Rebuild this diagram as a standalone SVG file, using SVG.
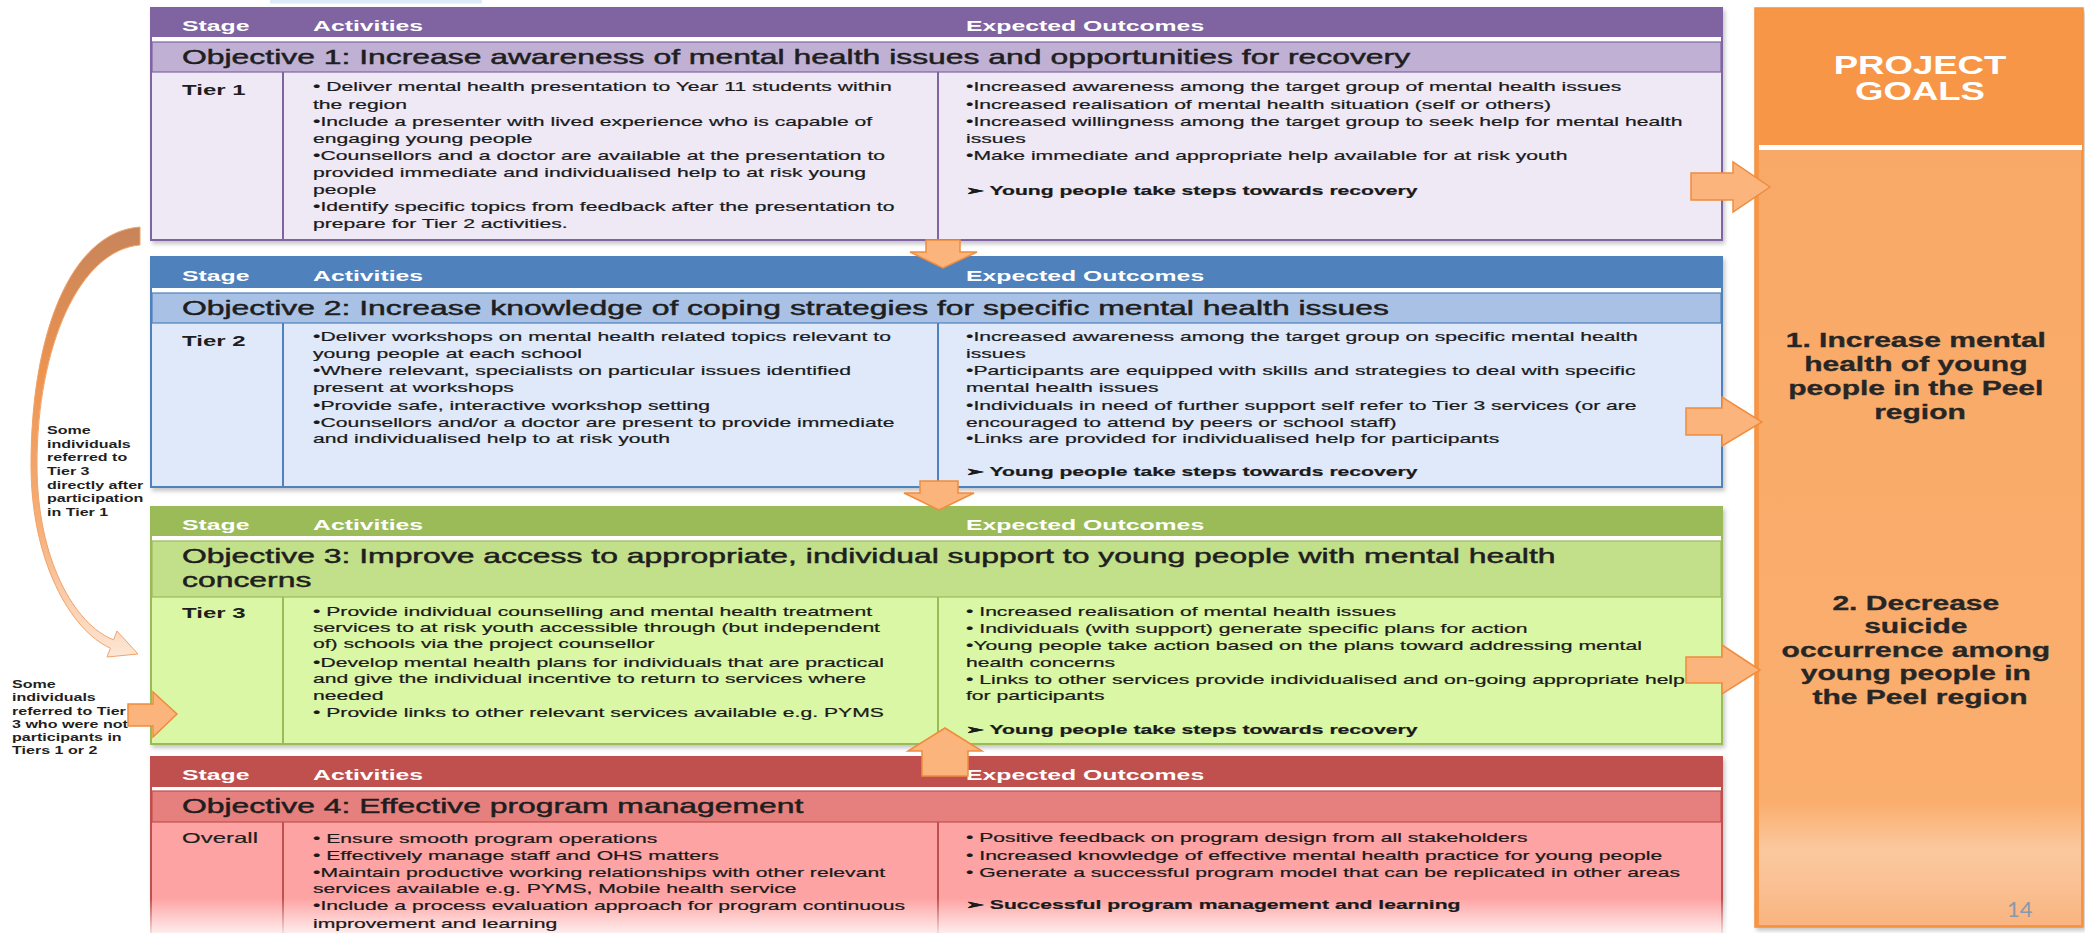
<svg xmlns="http://www.w3.org/2000/svg" width="2085" height="933" viewBox="0 0 2085 933">
  <defs>
    <style>
      text { font-family: "Liberation Sans", Arial, sans-serif; }
      .hd { font-weight: bold; font-size: 15.5px; fill: #ffffff; }
      .obj { font-size: 20px; fill: #1e1e1e; stroke: #1e1e1e; stroke-width: 0.45; }
      .tier { font-weight: bold; font-size: 15px; fill: #1e1e1e; }
      .tier-n { font-size: 15px; fill: #1e1e1e; stroke: #1e1e1e; stroke-width: 0.2; }
      .body { font-size: 13.2px; fill: #1a1a1a; stroke: #1a1a1a; stroke-width: 0.22; }
      .strong { font-weight: bold; }
      .goal { font-weight: bold; font-size: 19.5px; fill: #262626; text-anchor: middle; stroke: #262626; stroke-width: 0.3; }
      .goal-hd { font-weight: bold; font-size: 26.5px; fill: #ffffff; text-anchor: middle; }
      .side { font-weight: bold; font-size: 11px; fill: #1f1f1f; }
      .num { font-family: Lato, "Open Sans", sans-serif; font-size: 22px; fill: #8a98ad; }
      .arrow { fill: #fbb47c; stroke: #f08c3e; stroke-width: 1.5; stroke-linejoin: miter; }
      .divider { stroke-width: 2; }
    </style>
    <filter id="shadow" x="-2%" y="-5%" width="104%" height="115%">
      <feDropShadow dx="2" dy="3" stdDeviation="2" flood-color="#7f7f7f" flood-opacity="0.45"/>
    </filter>
    <linearGradient id="goalBody" x1="0" y1="150" x2="0" y2="927" gradientUnits="userSpaceOnUse">
      <stop offset="0" stop-color="#f9a967"/>
      <stop offset="0.84" stop-color="#faae6e"/>
      <stop offset="0.9" stop-color="#fbc89e"/>
      <stop offset="0.94" stop-color="#fac295"/>
      <stop offset="1" stop-color="#f9b37f"/>
    </linearGradient>
    <linearGradient id="curveFill" x1="0" y1="227" x2="0" y2="660" gradientUnits="userSpaceOnUse">
      <stop offset="0" stop-color="#c7845a"/>
      <stop offset="0.35" stop-color="#ee9450"/>
      <stop offset="0.7" stop-color="#f7b07a"/>
      <stop offset="1" stop-color="#fde8d8"/>
    </linearGradient>
    <linearGradient id="fadeOut" x1="0" y1="898" x2="0" y2="933" gradientUnits="userSpaceOnUse">
      <stop offset="0" stop-color="#ffffff" stop-opacity="0"/>
      <stop offset="1" stop-color="#ffffff" stop-opacity="0.8"/>
    </linearGradient>
  </defs>

  <rect width="2085" height="933" fill="#ffffff"/>
  <!-- partly visible strip at the top edge -->
  <rect x="270" y="0" width="212" height="3.5" fill="#dcebf8"/>

  <!-- Objective 1 -->
  <g id="objective-1">
    <rect x="151" y="8" width="1571" height="232" fill="#efe9f6" stroke="#8064a2" stroke-width="2" filter="url(#shadow)"/>
    <rect x="151" y="8" width="1571" height="29" fill="#8064a2"/>
    <rect x="152" y="37" width="1569" height="5" fill="#ffffff"/>
    <rect x="152" y="42" width="1569" height="30" fill="#bfb0d4" stroke="#8064a2" stroke-width="1.2"/>
    <line class="divider" x1="283" y1="72" x2="283" y2="240" stroke="#8064a2"/>
    <line class="divider" x1="938" y1="72" x2="938" y2="240" stroke="#8064a2"/>
    <g transform="translate(182 0) scale(1.6 1)"><text class="hd" x="0" y="31">Stage</text><text class="tier" x="0" y="95.5">Tier 1</text></g>
    <g transform="translate(313 0) scale(1.6 1)"><text class="hd" x="0" y="31">Activities</text></g>
    <g transform="translate(966 0) scale(1.6 1)"><text class="hd" x="0" y="31">Expected Outcomes</text></g>
    <g transform="translate(182 0) scale(1.595 1)"><text class="obj" x="0" y="64">Objective 1: Increase awareness of mental health issues and opportunities for recovery</text></g>
    <g transform="translate(313 0) scale(1.6 1)">
      <text class="body">
        <tspan x="0" y="91.5">• Deliver mental health presentation to Year 11 students within</tspan>
        <tspan x="0" y="108.6">the region</tspan>
        <tspan x="0" y="125.7">•Include a presenter with lived experience who is capable of</tspan>
        <tspan x="0" y="142.8">engaging young people</tspan>
        <tspan x="0" y="159.9">•Counsellors and a doctor are available at the presentation to</tspan>
        <tspan x="0" y="177">provided immediate and individualised help to at risk young</tspan>
        <tspan x="0" y="194.1">people</tspan>
        <tspan x="0" y="211.2">•Identify specific topics from feedback after the presentation to</tspan>
        <tspan x="0" y="228.3">prepare for Tier 2 activities.</tspan>
      </text>
    </g>
    <g transform="translate(966 0) scale(1.6 1)">
      <text class="body">
        <tspan x="0" y="91.5">•Increased awareness among the target group of mental health issues</tspan>
        <tspan x="0" y="108.6">•Increased realisation of mental health situation (self or others)</tspan>
        <tspan x="0" y="125.7">•Increased willingness among the target group to seek help for mental health</tspan>
        <tspan x="0" y="142.8">issues</tspan>
        <tspan x="0" y="159.9">•Make immediate and appropriate help available for at risk youth</tspan>
        <tspan x="0" y="194.7" class="strong">➢ Young people take steps towards recovery</tspan>
      </text>
    </g>
  </g>

  <!-- Objective 2 -->
  <g id="objective-2">
    <rect x="151" y="257" width="1571" height="230" fill="#dfe9fa" stroke="#4f81bd" stroke-width="2" filter="url(#shadow)"/>
    <rect x="151" y="257" width="1571" height="31" fill="#4f81bd"/>
    <rect x="152" y="288" width="1569" height="5" fill="#ffffff"/>
    <rect x="152" y="293" width="1569" height="30" fill="#a8c1e4" stroke="#4f81bd" stroke-width="1.2"/>
    <line class="divider" x1="283" y1="323" x2="283" y2="487" stroke="#4f81bd"/>
    <line class="divider" x1="938" y1="323" x2="938" y2="487" stroke="#4f81bd"/>
    <g transform="translate(182 0) scale(1.6 1)"><text class="hd" x="0" y="281">Stage</text><text class="tier" x="0" y="346.5">Tier 2</text></g>
    <g transform="translate(313 0) scale(1.6 1)"><text class="hd" x="0" y="281">Activities</text></g>
    <g transform="translate(966 0) scale(1.6 1)"><text class="hd" x="0" y="281">Expected Outcomes</text></g>
    <g transform="translate(182 0) scale(1.595 1)"><text class="obj" x="0" y="315">Objective 2: Increase knowledge of coping strategies for specific mental health issues</text></g>
    <g transform="translate(313 0) scale(1.6 1)">
      <text class="body">
        <tspan x="0" y="341.3">•Deliver workshops on mental health related topics relevant to</tspan>
        <tspan x="0" y="358.3">young people at each school</tspan>
        <tspan x="0" y="375.5">•Where relevant, specialists on particular issues identified</tspan>
        <tspan x="0" y="392.5">present at workshops</tspan>
        <tspan x="0" y="409.7">•Provide safe, interactive workshop setting</tspan>
        <tspan x="0" y="426.7">•Counsellors and/or a doctor are present to provide immediate</tspan>
        <tspan x="0" y="443.5">and individualised help to at risk youth</tspan>
      </text>
    </g>
    <g transform="translate(966 0) scale(1.6 1)">
      <text class="body">
        <tspan x="0" y="341.3">•Increased awareness among the target group on specific mental health</tspan>
        <tspan x="0" y="358.3">issues</tspan>
        <tspan x="0" y="375.5">•Participants are equipped with skills and strategies to deal with specific</tspan>
        <tspan x="0" y="392.5">mental health issues</tspan>
        <tspan x="0" y="409.7">•Individuals in need of further support self refer to Tier 3 services (or are</tspan>
        <tspan x="0" y="426.7">encouraged to attend by peers or school staff)</tspan>
        <tspan x="0" y="443.5">•Links are provided for individualised help for participants</tspan>
        <tspan x="0" y="476.3" class="strong">➢ Young people take steps towards recovery</tspan>
      </text>
    </g>
  </g>

  <!-- Objective 3 -->
  <g id="objective-3">
    <rect x="151" y="507" width="1571" height="237" fill="#daf7a6" stroke="#9bbb59" stroke-width="2" filter="url(#shadow)"/>
    <rect x="151" y="507" width="1571" height="29" fill="#9bbb59"/>
    <rect x="152" y="536" width="1569" height="5" fill="#ffffff"/>
    <rect x="152" y="541" width="1569" height="56" fill="#c2df8a" stroke="#9bbb59" stroke-width="1.2"/>
    <line class="divider" x1="283" y1="597" x2="283" y2="744" stroke="#9bbb59"/>
    <line class="divider" x1="938" y1="597" x2="938" y2="744" stroke="#9bbb59"/>
    <g transform="translate(182 0) scale(1.6 1)"><text class="hd" x="0" y="530">Stage</text><text class="tier" x="0" y="618">Tier 3</text></g>
    <g transform="translate(313 0) scale(1.6 1)"><text class="hd" x="0" y="530">Activities</text></g>
    <g transform="translate(966 0) scale(1.6 1)"><text class="hd" x="0" y="530">Expected Outcomes</text></g>
    <g transform="translate(182 0) scale(1.595 1)">
      <text class="obj">
        <tspan x="0" y="563">Objective 3: Improve access to appropriate, individual support to young people with mental health</tspan>
        <tspan x="0" y="587">concerns</tspan>
      </text>
    </g>
    <g transform="translate(313 0) scale(1.6 1)">
      <text class="body">
        <tspan x="0" y="616.3">• Provide individual counselling and mental health treatment</tspan>
        <tspan x="0" y="632.3">services to at risk youth accessible through (but independent</tspan>
        <tspan x="0" y="648">of) schools via the project counsellor</tspan>
        <tspan x="0" y="666.7">•Develop mental health plans for individuals that are practical</tspan>
        <tspan x="0" y="683.3">and give the individual incentive to return to services where</tspan>
        <tspan x="0" y="700">needed</tspan>
        <tspan x="0" y="717.3">• Provide links to other relevant services available e.g. PYMS</tspan>
      </text>
    </g>
    <g transform="translate(966 0) scale(1.6 1)">
      <text class="body">
        <tspan x="0" y="615.7">• Increased realisation of mental health issues</tspan>
        <tspan x="0" y="633">• Individuals (with support) generate specific plans for action</tspan>
        <tspan x="0" y="649.7">•Young people take action based on the plans toward addressing mental</tspan>
        <tspan x="0" y="667.3">health concerns</tspan>
        <tspan x="0" y="684">• Links to other services provide individualised and on-going appropriate help</tspan>
        <tspan x="0" y="700">for participants</tspan>
        <tspan x="0" y="734" class="strong">➢ Young people take steps towards recovery</tspan>
      </text>
    </g>
  </g>

  <!-- Objective 4 -->
  <g id="objective-4">
    <rect x="151" y="757" width="1571" height="190" fill="#fea3a3" stroke="#c0504d" stroke-width="2" filter="url(#shadow)"/>
    <rect x="151" y="757" width="1571" height="30" fill="#c0504d"/>
    <rect x="152" y="787" width="1569" height="4" fill="#ffffff"/>
    <rect x="152" y="791" width="1569" height="31" fill="#e5807e" stroke="#c0504d" stroke-width="1.2"/>
    <line class="divider" x1="283" y1="822" x2="283" y2="940" stroke="#c0504d"/>
    <line class="divider" x1="938" y1="822" x2="938" y2="940" stroke="#c0504d"/>
    <rect x="140" y="898" width="1600" height="35" fill="url(#fadeOut)"/>
    <g transform="translate(182 0) scale(1.6 1)"><text class="hd" x="0" y="780">Stage</text><text class="tier-n" x="0" y="843">Overall</text></g>
    <g transform="translate(313 0) scale(1.6 1)"><text class="hd" x="0" y="780">Activities</text></g>
    <g transform="translate(966 0) scale(1.6 1)"><text class="hd" x="0" y="780">Expected Outcomes</text></g>
    <g transform="translate(182 0) scale(1.595 1)"><text class="obj" x="0" y="813">Objective 4: Effective program management</text></g>
    <g transform="translate(313 0) scale(1.6 1)">
      <text class="body">
        <tspan x="0" y="843.3">• Ensure smooth program operations</tspan>
        <tspan x="0" y="860">• Effectively manage staff and OHS matters</tspan>
        <tspan x="0" y="876.7">•Maintain productive working relationships with other relevant</tspan>
        <tspan x="0" y="893.3">services available e.g. PYMS, Mobile health service</tspan>
        <tspan x="0" y="910">•Include a process evaluation approach for program continuous</tspan>
        <tspan x="0" y="928.3">improvement and learning</tspan>
      </text>
    </g>
    <g transform="translate(966 0) scale(1.6 1)">
      <text class="body">
        <tspan x="0" y="842.3">• Positive feedback on program design from all stakeholders</tspan>
        <tspan x="0" y="859.7">• Increased knowledge of effective mental health practice for young people</tspan>
        <tspan x="0" y="876.7">• Generate a successful program model that can be replicated in other areas</tspan>
        <tspan x="0" y="909" class="strong">➢ Successful program management and learning</tspan>
      </text>
    </g>
  </g>

  <!-- Project goals column -->
  <g id="project-goals">
    <rect x="1755" y="8" width="328" height="919" fill="#f79646" stroke="#f4913f" stroke-width="1.5" filter="url(#shadow)"/>
    <rect x="1759" y="150" width="322" height="775" fill="url(#goalBody)"/>
    <rect x="1759" y="145" width="323" height="5" fill="#ffffff"/>
    <g transform="translate(1920 0) scale(1.38 1)">
      <text class="goal-hd"><tspan x="0" y="74">PROJECT</tspan><tspan x="0" y="100">GOALS</tspan></text>
    </g>
    <g transform="translate(1920 0) scale(1.54 1)">
      <text class="goal">
        <tspan x="0" y="347">1. Increase mental</tspan>
        <tspan x="0" y="371">health of young</tspan>
        <tspan x="0" y="395">people in the Peel</tspan>
        <tspan x="0" y="419">region</tspan>
      </text>
      <text class="goal">
        <tspan x="0" y="610">2. Decrease</tspan>
        <tspan x="0" y="633.5">suicide</tspan>
        <tspan x="0" y="657">occurrence among</tspan>
        <tspan x="0" y="680.5">young people in</tspan>
        <tspan x="0" y="704">the Peel region</tspan>
      </text>
    </g>
    <text class="num" x="2007" y="917">14</text>
  </g>

  <!-- Side notes -->
  <g id="side-notes">
    <g transform="translate(47 0) scale(1.46 1)">
      <text class="side">
        <tspan x="0" y="434">Some</tspan>
        <tspan x="0" y="447.7">individuals</tspan>
        <tspan x="0" y="461.4">referred to</tspan>
        <tspan x="0" y="475.1">Tier 3</tspan>
        <tspan x="0" y="488.8">directly after</tspan>
        <tspan x="0" y="502.5">participation</tspan>
        <tspan x="0" y="516.2">in Tier 1</tspan>
      </text>
    </g>
    <g transform="translate(12 0) scale(1.46 1)">
      <text class="side">
        <tspan x="0" y="688">Some</tspan>
        <tspan x="0" y="701.3">individuals</tspan>
        <tspan x="0" y="714.6">referred to Tier</tspan>
        <tspan x="0" y="727.9">3 who were not</tspan>
        <tspan x="0" y="741.2">participants in</tspan>
        <tspan x="0" y="754.5">Tiers 1 or 2</tspan>
      </text>
    </g>
  </g>

  <!-- Connectors -->
  <g id="connectors">
    <!-- curved referral arrow from Tier 1 to Tier 3 -->
    <path d="M 140 227 C 70 232, 31 335, 31 465 C 31 560, 70 630, 110.4 648.2 L 107 657 L 138 654 L 117 631 L 113.6 639.8 C 75 625, 37 560, 37 465 C 37 345, 80 250, 140 245 Z" fill="url(#curveFill)" stroke="#f0a36a" stroke-width="1"/>
    <!-- direct referral into Tier 3 -->
    <path class="arrow" d="M 128 704 L 153 704 L 153 692 L 177 714 L 153 737 L 153 726 L 128 726 Z"/>
    <!-- flow between objectives -->
    <path class="arrow" d="M 926 240 L 960 240 L 960 252 L 977 252 L 943 268 L 910 252 L 926 252 Z"/>
    <path class="arrow" d="M 920 481 L 958 481 L 958 493 L 974 493 L 939 510 L 904 493 L 920 493 Z"/>
    <path class="arrow" d="M 922 776 L 922 751 L 908 751 L 945 728 L 982 751 L 968 751 L 968 776 Z"/>
    <!-- outcomes to goals -->
    <path class="arrow" d="M 1691 173 L 1733 173 L 1733 162 L 1770 187 L 1733 212 L 1733 200 L 1691 200 Z"/>
    <path class="arrow" d="M 1686 408 L 1722 408 L 1722 397 L 1762 422 L 1722 446 L 1722 435 L 1686 435 Z"/>
    <path class="arrow" d="M 1686 657 L 1722 657 L 1722 645 L 1760 670 L 1722 694 L 1722 683 L 1686 683 Z"/>
  </g>
</svg>
